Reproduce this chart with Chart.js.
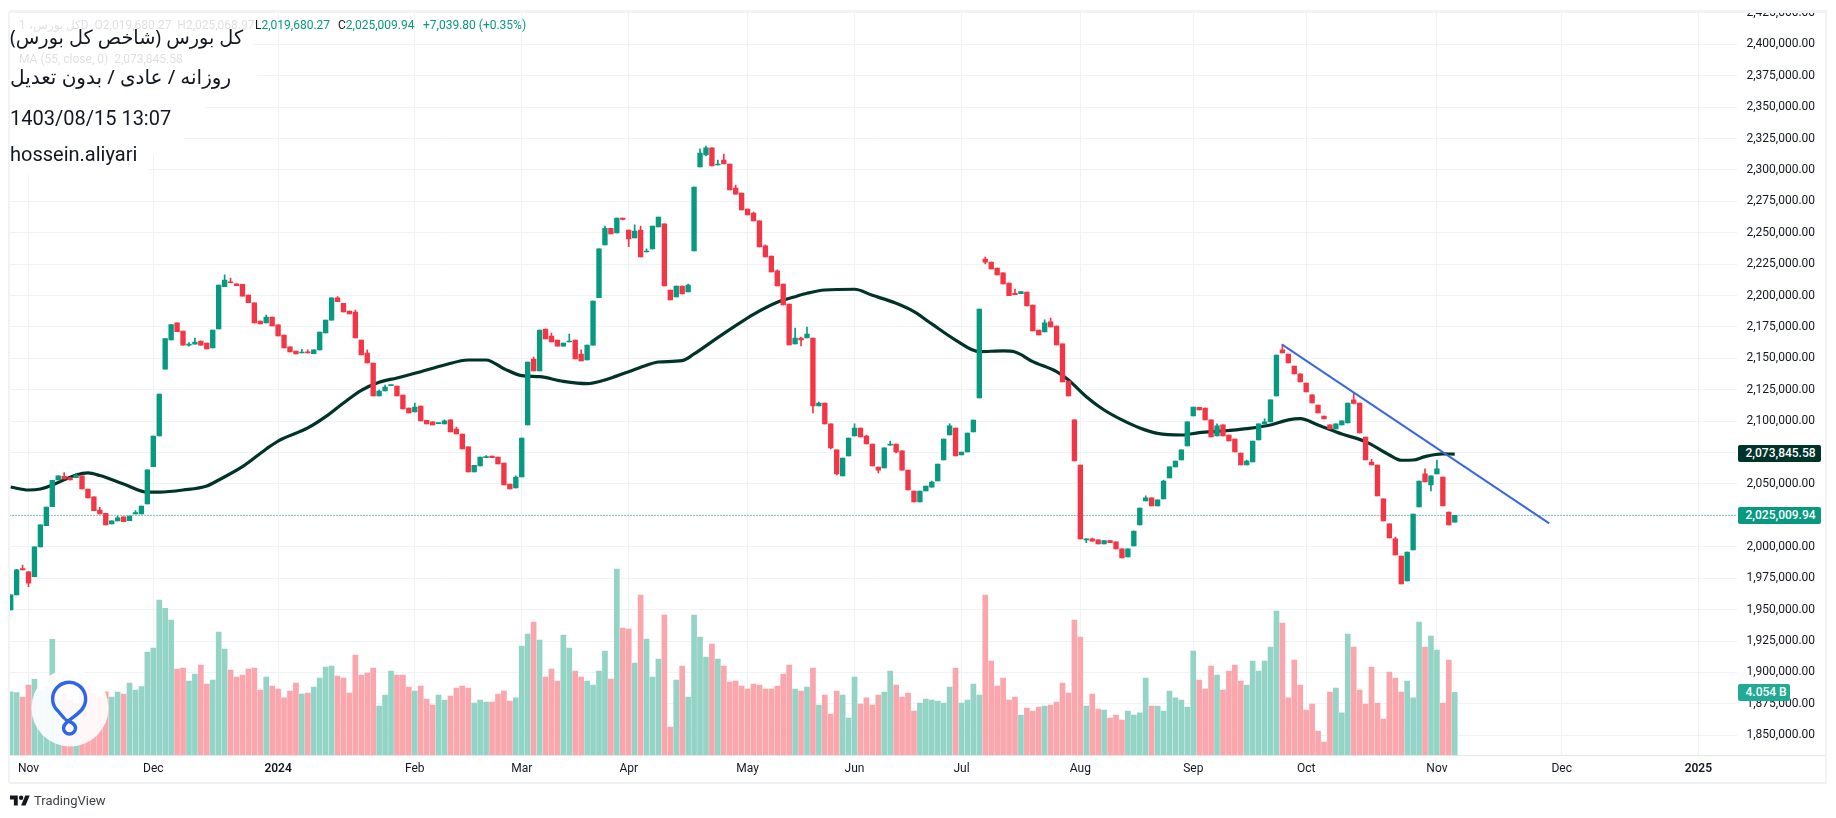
<!DOCTYPE html>
<html lang="fa">
<head>
<meta charset="utf-8">
<title>کل بورس (شاخص کل بورس)</title>
<script src="https://cdn.jsdelivr.net/npm/chart.js@4"></script>
<style>
  html, body { margin: 0; padding: 0; background: #fff; }
  #wrap { position: relative; width: 1836px; height: 818px; overflow: hidden; font-family: Roboto, sans-serif; }
  canvas { position: absolute; left: 0; top: 0; }
  #wrap div, #wrap svg { position: absolute; }
  .mask { background: #fff; }
  .note { left: 10px; font-size: 20px; line-height: 26px; color: #131722; white-space: nowrap; }
  .fa { font-family: "Noto Sans", "DejaVu Sans", sans-serif; direction: rtl; }
  .ghost { font-size: 12px; line-height: 16px; color: rgba(19,23,34,.14); white-space: nowrap; }
  .ohlc { font-size: 12px; line-height: 16px; color: #089981; white-space: nowrap; top: 17px; }
  .ohlc b { font-weight: 400; color: #131722; }
  .tag { left: 1738px; height: 17px; line-height: 17px; color: #fff; font-size: 12px; font-weight: 500; padding-left: 7.5px; border-radius: 2px; }
</style>
</head>
<body>
<div id="wrap">
  <canvas id="chart" width="1836" height="818"></canvas>

  <!-- pane frame -->
  <div style="left:0;top:0;width:1836px;height:9.5px;background:#fff"></div>
  <div style="left:9px;top:9.5px;width:1818px;height:3px;background:#f2f3f4"></div>
  <div style="left:8px;top:12px;width:2px;height:771px;background:#f2f3f4"></div>
  <div style="left:1825px;top:12px;width:2px;height:771px;background:#f2f3f4"></div>
  <div style="left:9px;top:782px;width:1818px;height:2px;background:#f0f1f2"></div>
  <div style="left:1737px;top:755px;width:88px;height:1px;background:#e4e6ea"></div>

  <!-- white boxes of the note stuck on the chart -->
  <div class="mask" style="left:10px;top:12.5px;width:243px;height:48px"></div>
  <div class="mask" style="left:10px;top:60px;width:247px;height:32px"></div>
  <div class="mask" style="left:10px;top:92px;width:195px;height:33px"></div>
  <div class="mask" style="left:10px;top:125px;width:174px;height:30px"></div>
  <div class="mask" style="left:10px;top:155px;width:138px;height:20px"></div>

  <div class="ghost" style="left:19px;top:17px">کل بورس، 1D&nbsp; O2,019,680.27&nbsp; H2,025,068.97</div>
  <div class="ghost" style="left:19px;top:51px">MA (55, close, 0)&nbsp; 2,073,845.58</div>
  <div class="ohlc" style="left:255px"><b>L</b>2,019,680.27</div>
  <div class="ohlc" style="left:338px"><b>C</b>2,025,009.94</div>
  <div class="ohlc" style="left:423px">+7,039.80 (+0.35%)</div>

  <div class="note fa" style="top:24px;font-size:19.3px">کل بورس (شاخص کل بورس)</div>
  <div class="note fa" style="top:64px">روزانه / عادی / بدون تعدیل</div>
  <div class="note" style="top:105px">1403/08/15 13:07</div>
  <div class="note" style="top:141px">hossein.aliyari</div>

  <div class="tag" style="top:445px;width:75.5px;background:#00332a">2,073,845.58</div>
  <div class="tag" style="top:507px;width:75.5px;background:#089981">2,025,009.94</div>
  <div class="tag" style="top:684px;width:44.5px;background:#22ab94">4.054 B</div>

  <!-- round watermark -->
  <svg style="left:0;top:640px" width="140" height="130" viewBox="0 640 140 130">
    <circle cx="70" cy="708" r="38.5" fill="rgba(255,255,255,.9)"/>
    <path d="M64 718 L57 710 A16.5 16.5 0 1 1 84 706 C80 716 64 720 63.5 728 A6 6 0 1 0 75.5 728 C75.5 724 71 722 66 720" fill="none" stroke="#2f66e8" stroke-width="3.4" stroke-linecap="round"/>
  </svg>

  <svg style="left:10px;top:795px" width="20" height="11" viewBox="0 4 36 18">
    <path d="M14 22H7V11H0V4h14v18zM28 22h-8l7.5-18h8L28 22z" fill="#131722"/><circle cx="20" cy="8" r="4" fill="#131722"/>
  </svg>
  <div style="left:34px;top:793px;font-size:13px;line-height:16px;color:#3c4048">TradingView</div>
</div>

<script>
// candle index of each month start on the time axis
var monthTicks = [3, 24, 45, 68, 86, 104, 124, 142, 160, 180, 199, 218, 240, 261, 284];
var monthLabels = ['Nov', 'Dec', '2024', 'Feb', 'Mar', 'Apr', 'May', 'Jun', 'Jul', 'Aug', 'Sep', 'Oct', 'Nov', 'Dec', '2025'];
var yearLabels = ['2024', '2025'];

var priceTicks = [2425000, 2400000, 2375000, 2350000, 2325000, 2300000, 2275000, 2250000, 2225000, 2200000,
  2175000, 2150000, 2125000, 2100000, 2075000, 2050000, 2025000, 2000000, 1975000, 1950000, 1925000, 1900000, 1875000, 1850000];

var opens = [
  1949700,1961700,1982600,1980000,1976300,1999900,2016900,2032000,2053200,2056100,
  2055100,2055100,2056400,2046000,2039700,2029300,2026700,2018200,2020600,2023800,
  2020800,2026100,2026100,2034100,2063800,2088200,2141500,2164600,2178200,2171800,
  2160600,2161400,2163800,2162200,2158300,2173400,2207100,2211000,2209400,2209000,
  2200400,2194300,2179700,2178200,2182900,2176600,2168600,2159100,2155900,2154300,
  2155300,2153700,2156700,2170200,2180500,2198100,2193800,2187700,2186900,2164600,
  2154300,2146300,2120100,2124000,2128300,2128000,2120800,2110500,2107300,2112100,
  2100700,2099400,2098000,2097800,2101000,2093800,2089800,2079500,2059600,2064300,
  2071000,2072300,2071500,2066700,2050000,2046800,2055600,2097000,2149500,2140000,
  2173400,2167800,2164600,2159800,2163000,2164600,2153500,2148700,2160600,2198300,
  2240300,2253500,2249800,2261700,2252200,2245800,2252200,2234700,2237100,2254600,
  2257000,2204400,2198900,2207600,2202800,2235500,2302300,2311900,2317500,2303900,
  2307900,2304700,2285600,2281600,2268900,2265700,2259400,2239500,2231500,2219600,
  2209200,2193300,2161500,2166200,2166200,2166200,2112100,2114500,2097800,2077100,
  2056400,2072300,2088200,2094600,2088200,2081800,2063500,2062700,2081000,2081800,
  2076300,2061100,2044400,2035700,2044400,2047400,2052400,2069100,2089000,2094600,
  2073100,2075500,2091400,2118500,2229100,2226700,2221900,2218000,2210000,2201800,
  2201500,2202800,2192500,2172600,2171000,2179000,2175800,2161500,2132000,2101000,
  2065100,2005500,2006300,2005500,2002300,2004900,2003900,1998300,1991900,2000700,
  2017400,2036500,2038900,2032500,2038100,2054800,2063600,2069100,2080300,2104100,
  2111000,2110500,2101000,2088200,2097000,2089000,2085800,2074700,2065100,2067500,
  2085000,2097800,2099400,2120100,2156700,2153500,2143900,2137600,2130400,2120900,
  2112900,2104100,2097000,2093800,2097000,2098600,2116900,2114500,2087400,2067500,
  2065100,2038100,2018200,2006300,1992700,1972800,1997500,2031700,2058000,2049200,
  2058000,2055600,2027700,2019680.27
];

var closes = [
  1961700,1981600,1981600,1971000,1999900,2017400,2031700,2052900,2056400,2054000,
  2053200,2056900,2046000,2038900,2028800,2026100,2017400,2020600,2023000,2020000,
  2024500,2027200,2032500,2061200,2088200,2121600,2165700,2176800,2171300,2160600,
  2161200,2163000,2160600,2157500,2172600,2208400,2212400,2210200,2207800,2199600,
  2194300,2178200,2177400,2182900,2175800,2167800,2158300,2155100,2153500,2155100,
  2154300,2156700,2171000,2180500,2198100,2195100,2186900,2185300,2166200,2152700,
  2146300,2120100,2124000,2127200,2128800,2120100,2109700,2106500,2111300,2100200,
  2097800,2097000,2098600,2100200,2091400,2089800,2077900,2059600,2064900,2071500,
  2071800,2071000,2065900,2049200,2046000,2055600,2086600,2147100,2140000,2172600,
  2165400,2163000,2159800,2162200,2163800,2149500,2147900,2160600,2195700,2237100,
  2253500,2249000,2261700,2260700,2245000,2251400,2230700,2235500,2255400,2262500,
  2207600,2196500,2207600,2201300,2208400,2286400,2313500,2317500,2303100,2304700,
  2304700,2284000,2280800,2268100,2264100,2259400,2238700,2230700,2218800,2207600,
  2192500,2160700,2166200,2164600,2169400,2112100,2114500,2097800,2078700,2058000,
  2070700,2086600,2094600,2087400,2081800,2064300,2061100,2078700,2081800,2075500,
  2061100,2045200,2035700,2044400,2048400,2051600,2065900,2085800,2096200,2072300,
  2075500,2090600,2100900,2189300,2226500,2221200,2216400,2209200,2199900,2200700,
  2203100,2191700,2171800,2168600,2178200,2175000,2160700,2131200,2120100,2068300,
  2006300,2006300,2004400,2002300,2004900,2003300,1998300,1991100,1998300,2012600,
  2030900,2038900,2032500,2037300,2052400,2063600,2068300,2077100,2099400,2111300,
  2108900,2101000,2087400,2096200,2088200,2084200,2075500,2065100,2068300,2084200,
  2097800,2099400,2116900,2152700,2154300,2146300,2137600,2131200,2123200,2114500,
  2106500,2101800,2093800,2097800,2100200,2114500,2114200,2090600,2069100,2065100,
  2040500,2020600,2007000,1993500,1970400,1995900,2026100,2052400,2051600,2056400,
  2062000,2032500,2017400,2025009.94
];

// null = no wick above / below the body
var highs = [
  null,1982100,1985500,1980200,null,null,null,null,null,2059000,
  null,2058500,null,null,null,2031400,null,null,2024500,null,
  null,2028800,null,null,null,null,null,null,null,null,
  2162500,2166200,null,null,null,null,2216400,2214000,null,null,
  null,null,null,2184500,null,null,null,null,null,2157200,
  2156700,null,null,null,null,2199200,null,null,2188500,null,
  2156700,null,2124800,2128800,null,null,null,null,2114500,null,
  null,null,null,2101000,null,2095400,null,null,null,null,
  2072600,null,null,null,null,2056400,null,null,2151100,null,
  null,2170200,null,null,2169400,null,2156700,null,null,null,
  2255400,null,null,null,null,2256200,2255400,2237100,null,null,
  null,null,null,null,2209200,null,2316700,2319000,null,2307900,
  2312700,null,2288000,null,null,2266500,null,2240300,null,2220400,
  null,null,2174200,2167000,2175000,null,2115300,null,null,null,
  null,null,2097800,null,2089000,null,null,null,2084200,null,
  null,null,null,null,null,2052400,null,null,2097800,null,
  null,null,null,null,2230700,null,null,null,null,2205200,
  null,null,null,null,2180600,2182100,null,null,null,null,
  null,null,2007000,null,null,null,null,null,null,null,
  null,2040500,null,null,2053200,null,null,null,null,null,
  null,null,null,2097800,null,null,null,null,2069100,null,
  null,2101800,null,null,2160700,null,null,null,null,null,
  null,null,null,null,null,null,2122500,null,null,2069700,
  null,null,null,2007800,null,null,null,null,2062000,null,
  2069100,null,null,2025068.97
];

var lows = [
  null,null,null,1968300,null,null,null,null,null,null,
  null,null,null,null,null,null,null,null,null,null,
  null,null,null,null,null,null,null,null,null,null,
  2159800,null,null,null,null,null,null,null,null,null,
  null,null,null,null,null,null,null,null,null,null,
  null,null,null,null,null,null,null,null,null,null,
  null,null,null,null,null,null,null,null,null,null,
  null,null,null,null,null,null,null,null,null,null,
  null,null,null,null,null,null,null,null,null,null,
  null,null,null,null,null,null,null,null,null,null,
  null,null,null,2260200,2238900,null,null,null,null,null,
  null,null,null,null,null,null,null,2311100,null,null,
  null,null,null,null,null,null,null,null,null,null,
  null,null,null,2159900,null,2106500,null,null,2077900,2057200,
  null,null,null,null,null,null,2058800,null,null,2074700,
  null,null,null,null,null,null,null,null,null,null,
  null,null,null,null,2225100,null,null,null,null,null,
  null,null,null,null,null,null,null,null,null,null,
  null,2003300,null,null,null,null,null,null,null,null,
  null,null,null,null,null,null,null,null,null,null,
  null,null,null,null,null,null,null,null,null,null,
  null,null,null,null,null,null,null,null,null,null,
  null,null,null,null,null,null,2113700,null,null,null,
  null,null,null,null,null,null,null,null,null,2044500,
  null,null,null,null
];

// volume in billions
var volumes = [
  4.09,4.03,3.75,4.53,4.89,4.20,4.42,7.48,3.56,3.99,
  3.56,3.34,3.99,4.42,3.99,3.77,4.09,3.75,4.07,3.94,
  4.66,4.20,4.42,6.66,6.92,10.02,9.48,8.73,5.56,5.63,
  4.78,5.24,5.82,4.59,4.85,7.95,6.85,5.50,5.04,5.17,
  5.56,5.63,4.20,5.04,4.46,4.27,3.69,4.14,4.66,3.94,
  4.01,4.40,4.98,5.69,5.75,5.11,4.98,4.01,6.47,5.17,
  5.30,5.63,3.17,3.88,5.43,5.17,5.17,4.40,4.14,4.46,
  3.62,3.23,3.88,3.56,3.81,4.33,4.46,4.33,3.36,3.56,
  3.43,3.43,3.94,4.14,3.49,3.69,7.05,7.82,8.60,7.44,
  5.04,5.56,4.78,7.76,6.92,5.43,5.04,4.78,4.53,5.43,
  6.72,4.91,12.03,8.21,8.15,5.95,10.34,7.50,5.04,6.21,
  9.05,1.81,4.85,5.75,3.75,9.05,7.63,6.34,7.18,6.21,
  5.75,4.72,4.78,4.46,4.27,4.59,4.53,4.27,4.27,4.46,
  5.24,5.82,4.27,4.14,4.40,5.63,3.23,3.88,2.65,4.14,
  3.88,2.39,5.04,3.30,3.69,3.23,3.88,4.07,5.43,4.53,
  3.75,4.01,2.84,3.36,3.62,3.56,3.49,3.36,4.40,5.63,
  3.36,3.56,4.59,3.88,10.34,6.08,4.46,4.98,3.56,3.75,
  2.59,3.04,2.84,3.10,3.17,3.23,3.43,4.66,4.01,8.73,
  7.63,3.17,3.94,2.97,2.91,2.39,2.59,2.26,2.84,2.59,
  2.72,4.98,3.17,3.17,2.84,4.14,3.69,3.56,3.10,6.72,
  4.85,4.27,5.75,5.17,4.20,5.43,5.82,4.78,4.53,6.08,
  5.43,6.08,6.98,9.31,8.53,3.69,6.14,4.53,2.91,3.30,
  1.55,0.84,4.07,4.33,2.72,7.82,6.98,4.20,3.30,5.69,
  3.36,2.33,5.37,4.98,4.07,4.78,3.69,8.60,6.98,7.69,
  6.79,3.36,6.14,4.054
];

// 55 day moving average, read at these candles
var maIndex = [0,3,5,7,11,13,15,19,23,25,29,33,35,39,43,45,50,53,56,59,62,65,69,73,77,80,83,86,89,93,97,100,104,107,109,113,115,118,122,125,129,132,134,137,142,145,149,152,155,159,163,167,169,172,176,178,181,184,187,190,193,197,200,204,208,212,215,217,220,224,228,232,234,236,238,241,243];
var maValues = [2047600,2045200,2046000,2049200,2057200,2058800,2056700,2050000,2043600,2043600,2045200,2048400,2053200,2063800,2077900,2084200,2094600,2103600,2114500,2124600,2131000,2134400,2139400,2144700,2148700,2148700,2141800,2136200,2135400,2131700,2129900,2132800,2139400,2144500,2147100,2148200,2153500,2163300,2176000,2185000,2194600,2199100,2201800,2204400,2205000,2200200,2193800,2187200,2177400,2164600,2155400,2155900,2155100,2147400,2139400,2132800,2119500,2108900,2101000,2094600,2090300,2089000,2090900,2092200,2094100,2097000,2101000,2102000,2097000,2089800,2083700,2073100,2068900,2069100,2071800,2073900,2073845.58];

// drawn trend line
var trendIndex = [213.9, 258.9];
var trendValues = [2161200, 2018700];

var lastPrice = 2025009.94;

var GREEN = '#089981', RED = '#f23645';
var VOL_GREEN = '#94d4c6', VOL_RED = '#f9a6ad';
var GRID = '#f0f3f6';

var xMin = -0.2, xMax = 290.5;
var isUp = opens.map(function(o, i) { return closes[i] >= o; });

var bodies = opens.map(function(o, i) {
  return { x: i, y: [Math.min(o, closes[i]), Math.max(o, closes[i])] };
});
var wicks = opens.map(function(o, i) {
  var hi = highs[i] === null ? Math.max(o, closes[i]) : highs[i];
  var lo = lows[i] === null ? Math.min(o, closes[i]) : lows[i];
  return { x: i, y: [lo, hi] };
});
var candleColors = isUp.map(function(u) { return u ? GREEN : RED; });
var volColors = isUp.map(function(u) { return u ? VOL_GREEN : VOL_RED; });

new Chart(document.getElementById('chart'), {
  type: 'bar',
  data: {
    datasets: [
      { type: 'line', label: 'Trend', order: 0, yAxisID: 'y',
        data: trendIndex.map(function(x, i) { return { x: x, y: trendValues[i] }; }),
        borderColor: '#3d68dc', borderWidth: 2, pointRadius: 0, tension: 0 },
      { label: 'Body', order: 1, yAxisID: 'y', grouped: false, data: bodies,
        backgroundColor: candleColors, barThickness: 4.7, minBarLength: 1 },
      { label: 'Wick', order: 2, yAxisID: 'y', grouped: false, data: wicks,
        backgroundColor: candleColors, barThickness: 1 },
      { type: 'line', label: 'MA', order: 3, yAxisID: 'y',
        data: maIndex.map(function(x, i) { return { x: x, y: maValues[i] }; }),
        borderColor: '#00332a', borderWidth: 3.2, pointRadius: 0, cubicInterpolationMode: 'monotone' },
      { type: 'line', label: 'Last', order: 4, yAxisID: 'y',
        data: [{ x: xMin, y: lastPrice }, { x: xMax, y: lastPrice }],
        borderColor: GREEN, borderWidth: 1, borderDash: [1, 2], pointRadius: 0 },
      { label: 'Volume', order: 5, yAxisID: 'vol', grouped: false,
        data: volumes.map(function(v, i) { return { x: i, y: v }; }),
        backgroundColor: volColors, barThickness: 5 }
    ]
  },
  options: {
    responsive: false,
    animation: false,
    devicePixelRatio: 1,
    layout: { padding: { left: 9.5, top: 12, right: 11, bottom: 36 } },
    plugins: { legend: { display: false }, tooltip: { enabled: false } },
    scales: {
      x: {
        type: 'linear', min: xMin, max: xMax, offset: false,
        afterBuildTicks: function(scale) {
          scale.ticks = monthTicks.map(function(v) { return { value: v }; });
        },
        afterFit: function(scale) {
          scale.height = 27;
          scale.paddingLeft = 0;
          scale.paddingRight = 0;
        },
        grid: { color: GRID, offset: false, drawTicks: false },
        border: { display: true, color: '#e4e6ea' },
        ticks: {
          autoSkip: false, maxRotation: 0, padding: 7, color: '#131722',
          font: function(ctx) {
            var bold = ctx.tick && yearLabels.indexOf(ctx.tick.label) >= 0;
            return { family: 'Roboto', size: 12, weight: bold ? '600' : '400' };
          },
          callback: function(value) { return monthLabels[monthTicks.indexOf(value)]; }
        }
      },
      y: {
        position: 'right', min: 1834277, max: 2425711,
        afterBuildTicks: function(scale) {
          scale.ticks = priceTicks.map(function(v) { return { value: v }; });
        },
        afterFit: function(scale) {
          // the top label is cut by the pane edge, so it must not push the plot down
          scale.width = 88;
          scale.paddingTop = 0;
          scale.paddingBottom = 0;
        },
        grid: { color: GRID, drawTicks: false },
        border: { display: false },
        ticks: {
          autoSkip: false, padding: 9.5, color: '#131722', crossAlign: 'near',
          font: { family: 'Roboto', size: 12 },
          callback: function(value) {
            return value.toLocaleString('en-US', { minimumFractionDigits: 2, maximumFractionDigits: 2 });
          }
        }
      },
      vol: { display: false, min: 0, max: 48.06, grid: { display: false } }
    }
  }
});
</script>
</body>
</html>
